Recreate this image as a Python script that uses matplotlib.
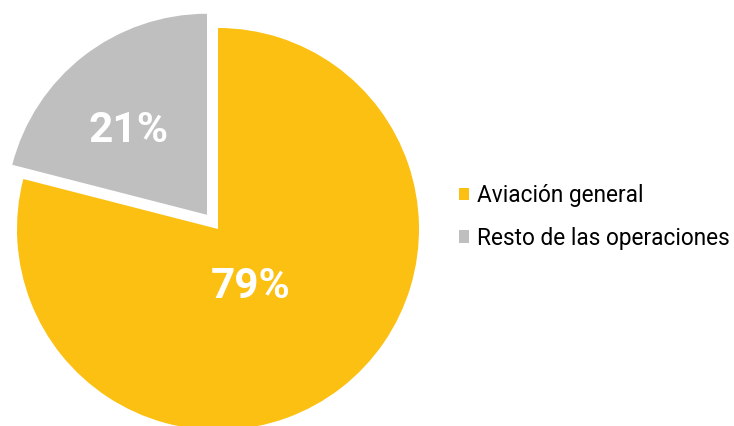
import matplotlib
matplotlib.use("Agg")
import matplotlib.pyplot as plt
from matplotlib.patches import Patch

categories = ["Aviación general", "Resto de las operaciones"]
values = [79, 21]
pct_labels = ["79%", "21%"]
colors = ["#FBC012", "#BFBFBF"]

W, H = 734, 426
fig = plt.figure(figsize=(W / 100, H / 100), dpi=100)
ax = fig.add_axes([0, 0, 1, 1])

cx, cy, r = 218, H - 229, 201
wedges, _ = ax.pie(values, colors=colors, startangle=90, counterclock=False,
                   explode=[0, 18], center=(cx, cy), radius=r,
                   wedgeprops=dict(linewidth=0), frame=True)
ax.set_xlim(0, W)
ax.set_ylim(0, H)
ax.set_aspect("equal")
ax.axis("off")

font = ["Roboto", "DejaVu Sans"]
ax.text(cx + 33, cy - 58, pct_labels[0], color="white", fontsize=30.5,
        fontweight="bold", ha="center", va="center", family=font)
ax.text(cx - 89, cy + 99, pct_labels[1], color="white", fontsize=30.5,
        fontweight="bold", ha="center", va="center", family=font)

handles = [Patch(facecolor=c, edgecolor="none") for c in colors]
leg = fig.legend(handles, categories, loc="center left",
                 bbox_to_anchor=(459 / W, 1 - 217 / H), frameon=False,
                 prop=dict(family=font, size=16.3), handlelength=0.45,
                 handleheight=0.45, handletextpad=0.36, labelspacing=0.85,
                 borderpad=0, borderaxespad=0)

fig.savefig("out.png", dpi=100)
